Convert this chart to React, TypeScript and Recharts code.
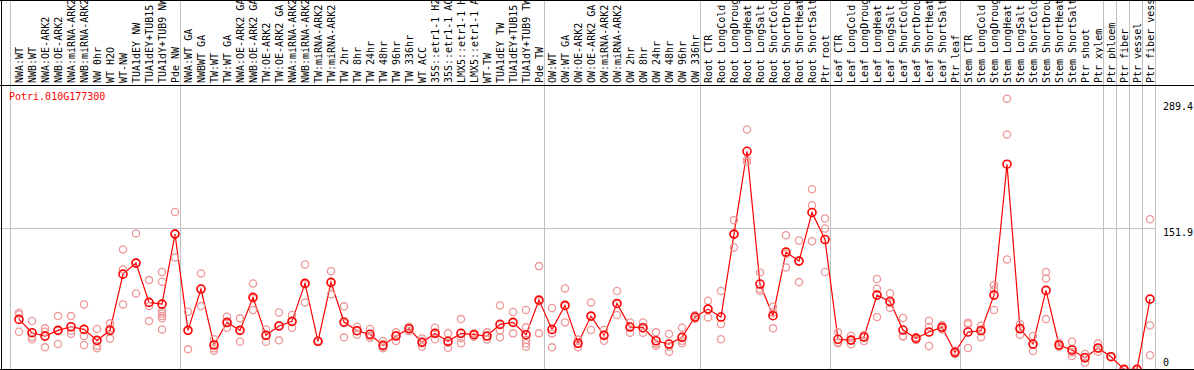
import { ComposedChart, Line, Scatter, XAxis, YAxis, ReferenceLine } from 'recharts';

const geneId = 'Potri.010G177300';

const categories = [
  'NWA:WT', 'NWB:WT', 'NWA:OE-ARK2', 'NWB:OE-ARK2', 'NWA:miRNA-ARK2', 'NWB:miRNA-ARK2', 'NW 0hr',
  'WT H2O', 'WT-NW', 'TUA1dEY NW', 'TUA1dEY+TUB15 NW', 'TUA1dY+TUB9 NW', 'Pde NW',
  'NWA:WT GA', 'NWBWT GA', 'TW:WT', 'TW:WT GA', 'NWA:OE-ARK2 GA', 'NWB:OE-ARK2 GA', 'TW:OE-ARK2',
  'TW:OE-ARK2 GA', 'NWA:miRNA-ARK2', 'NWB:miRNA-ARK2', 'TW:miRNA-ARK2', 'TW:miRNA-ARK2', 'TW 2hr',
  'TW 8hr', 'TW 24hr', 'TW 48hr', 'TW 96hr', 'TW 336hr', 'WT ACC', '35S::etr1-1 H2O', '35S::etr1-1 ACC',
  'LMX5::etr1-1 H2O', 'LMX5::etr1-1 ACC', 'WT-TW', 'TUA1dEY TW', 'TUA1dEY+TUB15 TW', 'TUA1dY+TUB9 TW', 'Pde TW',
  'OW:WT', 'OW:WT GA', 'OW:OE-ARK2', 'OW:OE-ARK2 GA', 'OW:miRNA-ARK2', 'OW:miRNA-ARK2', 'OW 2hr', 'OW 8hr',
  'OW 24hr', 'OW 48hr', 'OW 96hr', 'OW 336hr',
  'Root CTR', 'Root LongCold', 'Root LongDrought', 'Root LongHeat', 'Root LongSalt', 'Root ShortCold',
  'Root ShortDrought', 'Root ShortHeat', 'Root ShortSalt', 'Ptr root',
  'Leaf CTR', 'Leaf LongCold', 'Leaf LongDrought', 'Leaf LongHeat', 'Leaf LongSalt', 'Leaf ShortCold',
  'Leaf ShortDrought', 'Leaf ShortHeat', 'Leaf ShortSalt', 'Ptr leaf',
  'Stem CTR', 'Stem LongCold', 'Stem LongDrought', 'Stem LongHeat', 'Stem LongSalt', 'Stem ShortCold',
  'Stem ShortDrought', 'Stem ShortHeat', 'Stem ShortSalt', 'Ptr shoot', 'Ptr xylem',
  'Ptr phloem', 'Ptr fiber', 'Ptr vessel', 'Ptr fiber vessel',
];

// number of columns in each block between the grey separators
const groupSizes = [13, 28, 12, 10, 10, 11, 1, 1, 1, 1];

const means = [
  55.7, 41.6, 38, 44.1, 47.9, 45.1, 33.5, 44.1, 103.6, 115.3, 73.7, 71.9, 146,
  44.1, 87.8, 28.6, 52.5, 44.1, 79, 38.8, 48.7, 53.6, 93.8, 32.5, 94.9, 52.9, 43.7, 39.9,
  28.2, 38.1, 45.8, 31.4, 40.9, 32.5, 40.9, 39.5, 38.1, 50.4, 52.5, 39.5, 76.1,
  45.1, 70.5, 30.4, 59.2, 38.8, 72.6, 47.6, 46.9, 33.1, 29.6, 36.7, 58.2,
  66.6, 58.2, 146, 233.7, 93.1, 59.6, 126.9, 117.4, 168.9, 140.3,
  34.6, 33.8, 37, 81.4, 74.7, 44.4, 35.6, 42.3, 47.3, 20.8,
  42.3, 43.7, 81.4, 220, 45.8, 29.6, 86.4, 28.6, 23.3, 15.1, 25.4,
  16.2, 2.8, 2.8, 77.2,
];

const replicates = [
  [62.7, 61, 42.6], [54, 37, 34.6], [46.2, 42.6, 26.1], [59.2, 44, 29.6], [59.2, 43.7, 40.5],
  [71.6, 38.1, 28.6], [45.5, 27.8, 25.1], [51.5, 46, 35.6], [129.8, 108.6, 71.6], [146.7, 116, 83.2],
  [97.3, 69.8, 53.9], [105.8, 95.5, 64.5, 62, 59.2, 56.8, 45.1], [169.5, 147, 121.3],
  [63.8, 44, 24], [104.4, 88, 69.8], [34.6, 25.1, 22.5], [58.5, 52, 46.9], [56.8, 44, 32],
  [93.8, 78, 65.6], [45.1, 39, 32], [63.1, 49, 33.5], [60.3, 53, 46.9], [113.9, 93, 73.7],
  [33, 32, 32.5], [106.8, 95, 82.2], [69.5, 52, 36.7], [47.9, 43.5, 39.5], [45.5, 38, 36.3],
  [32.8, 27, 25.1], [42, 39, 32.8], [47.9, 46, 43.4], [35.6, 32, 26.8], [46.9, 41, 34.6],
  [40.9, 31, 25.7], [56, 36, 30.4], [40.9, 40, 37.4], [42, 38, 34.3], [70.5, 44, 36.7],
  [63.5, 53, 40.9], [65.6, 47.3, 33.8, 30.4, 26.8], [112.1, 75, 40.9],
  [67.7, 40.9, 26.1], [88.5, 70, 52.5], [34.3, 30, 26.1], [73.7, 59, 44.4], [44.4, 39, 33.1],
  [85.7, 72, 60.3], [52.5, 48, 41.6], [52.5, 46, 41.6], [42, 30, 27.8], [40.2, 27, 21.5],
  [46.9, 33, 30.4], [60, 58, 56.5],
  [75.4, 67, 57.8], [85.7, 50.8, 34.6], [160.8, 146, 131.9], [256.7, 225, 222.4], [105.4, 88, 85.7],
  [69.1, 63, 46.2], [144.9, 125, 110.7], [139.3, 117.5, 95.2], [193.5, 176.6, 138.5], [162.6, 152, 105.8],
  [42, 31.5, 30.4], [38.4, 33.5, 29.3], [39.1, 37, 32.8], [98.4, 88.1, 58.2], [83.2, 73, 68],
  [57.1, 38.1, 37.5], [37, 35.6, 34], [54.3, 47.9, 27.5], [49.7, 47, 45], [22.5, 20.8, 19],
  [52.2, 50.5, 25.4], [49, 45, 36.7], [92, 87, 65.6], [289.4, 251.4, 119.2], [50.8, 47, 39.5],
  [38.1, 28.5, 22.2], [105.8, 99.1, 56], [31, 28.5, 26.5], [32, 21, 16.9], [19, 16, 9.8],
  [30.4, 25, 21.5], [16.5, 16.2, 15.9], [3, 2.8, 2.6], [3, 2.8, 2.6], [161.8, 49.3, 17.7],
];

const yTicks = [0, 151.9, 289.4];

const FONT = '"DejaVu Sans Mono", "Liberation Mono", monospace';
const GRID = '#c0c0c0';
const COL = 13; // px per column

const lineRows = means.map((m, i) => ({ x: i, mean: m }));
const repPoints = replicates.flatMap((reps, i) => reps.map((v) => ({ x: i, y: v })));

// grey separators sit just right of the last column of each block
const boundaries: number[] = [-8.5 / COL];
groupSizes.reduce((acc, n) => {
  const end = acc + n;
  boundaries.push(end - 1 + 5.5 / COL);
  return end;
}, 0);

const topTicks = [...categories.map((_, i) => i), ...boundaries];
const yMax = Math.max(...yTicks) * 1.05;

function TopTick(props: any) {
  const { x, y, payload } = props;
  const v = payload.value;
  if (!Number.isInteger(v)) {
    return <line x1={x} x2={x} y1={0} y2={y + 2} stroke={GRID} strokeWidth={1} />;
  }
  return (
    <text
      x={x}
      y={y}
      transform={`rotate(-90 ${x} ${y})`}
      textAnchor="start"
      dominantBaseline="central"
      fontSize={10}
      fontFamily={FONT}
      fill="#000"
    >
      {categories[v]}
    </text>
  );
}

function RightTick(props: any) {
  const { x, y, payload } = props;
  const v = payload.value;
  const dy = v === 0 ? -10 : v === Math.max(...yTicks) ? 8 : 4;
  return (
    <text x={x + 7} y={y + dy} textAnchor="start" dominantBaseline="central" fontSize={10} fontFamily={FONT} fill="#000">
      {v}
    </text>
  );
}

function RepDot(props: any) {
  const { cx, cy } = props;
  if (cx == null || cy == null) return null;
  return <circle cx={cx} cy={cy} r={3.6} fill="none" stroke="#ee9898" strokeWidth={1.3} />;
}

export default function App() {
  return (
    <div style={{ position: 'relative', width: 1194, height: 370, overflow: 'hidden', background: '#fff' }}>
      <style>{'body{margin:0;}'}</style>
      <ComposedChart
        width={1194}
        height={372}
        data={lineRows}
        margin={{ top: 0, right: 0, bottom: 0, left: 0 }}
        style={{ fontFamily: FONT }}
      >
        <XAxis
          xAxisId="t"
          orientation="top"
          dataKey="x"
          type="number"
          domain={[-19 / COL, 1137 / COL]}
          allowDataOverflow
          ticks={topTicks}
          interval={0}
          height={85}
          tickSize={0}
          tickMargin={2}
          axisLine={false}
          tickLine={false}
          tick={<TopTick />}
        />
        <YAxis
          yAxisId="r"
          orientation="right"
          type="number"
          domain={[0, yMax]}
          allowDataOverflow
          ticks={yTicks}
          interval={0}
          width={38}
          tickSize={0}
          tickMargin={0}
          axisLine={false}
          tickLine={false}
          tick={<RightTick />}
        />
        {boundaries.map((b) => (
          <ReferenceLine key={b} xAxisId="t" yAxisId="r" x={b} stroke={GRID} strokeWidth={1} ifOverflow="visible" />
        ))}
        <ReferenceLine xAxisId="t" yAxisId="r" y={151.9} stroke={GRID} strokeWidth={1} />
        <Scatter
          xAxisId="t"
          yAxisId="r"
          data={repPoints}
          dataKey="y"
          shape={<RepDot />}
          isAnimationActive={false}
        />
        <Line
          xAxisId="t"
          yAxisId="r"
          dataKey="mean"
          stroke="#ff0000"
          strokeWidth={1.2}
          dot={{ r: 4, stroke: '#ff0000', strokeWidth: 1.6, fill: 'none' }}
          activeDot={false}
          isAnimationActive={false}
        />
      </ComposedChart>
      {/* frame lines */}
      <div style={{ position: 'absolute', left: 0, top: 0, width: 1194, height: 1, background: '#000' }} />
      <div style={{ position: 'absolute', left: 0, top: 85, width: 1194, height: 1, background: '#000' }} />
      <div style={{ position: 'absolute', left: 0, top: 369, width: 1194, height: 1, background: '#000' }} />
      <div style={{ position: 'absolute', left: 1, top: 0, width: 1, height: 370, background: '#000' }} />
      <div
        style={{
          position: 'absolute', left: 9, top: 91, fontFamily: FONT, fontSize: 10, lineHeight: '12px', color: '#ff0000',
        }}
      >
        {geneId}
      </div>
    </div>
  );
}
